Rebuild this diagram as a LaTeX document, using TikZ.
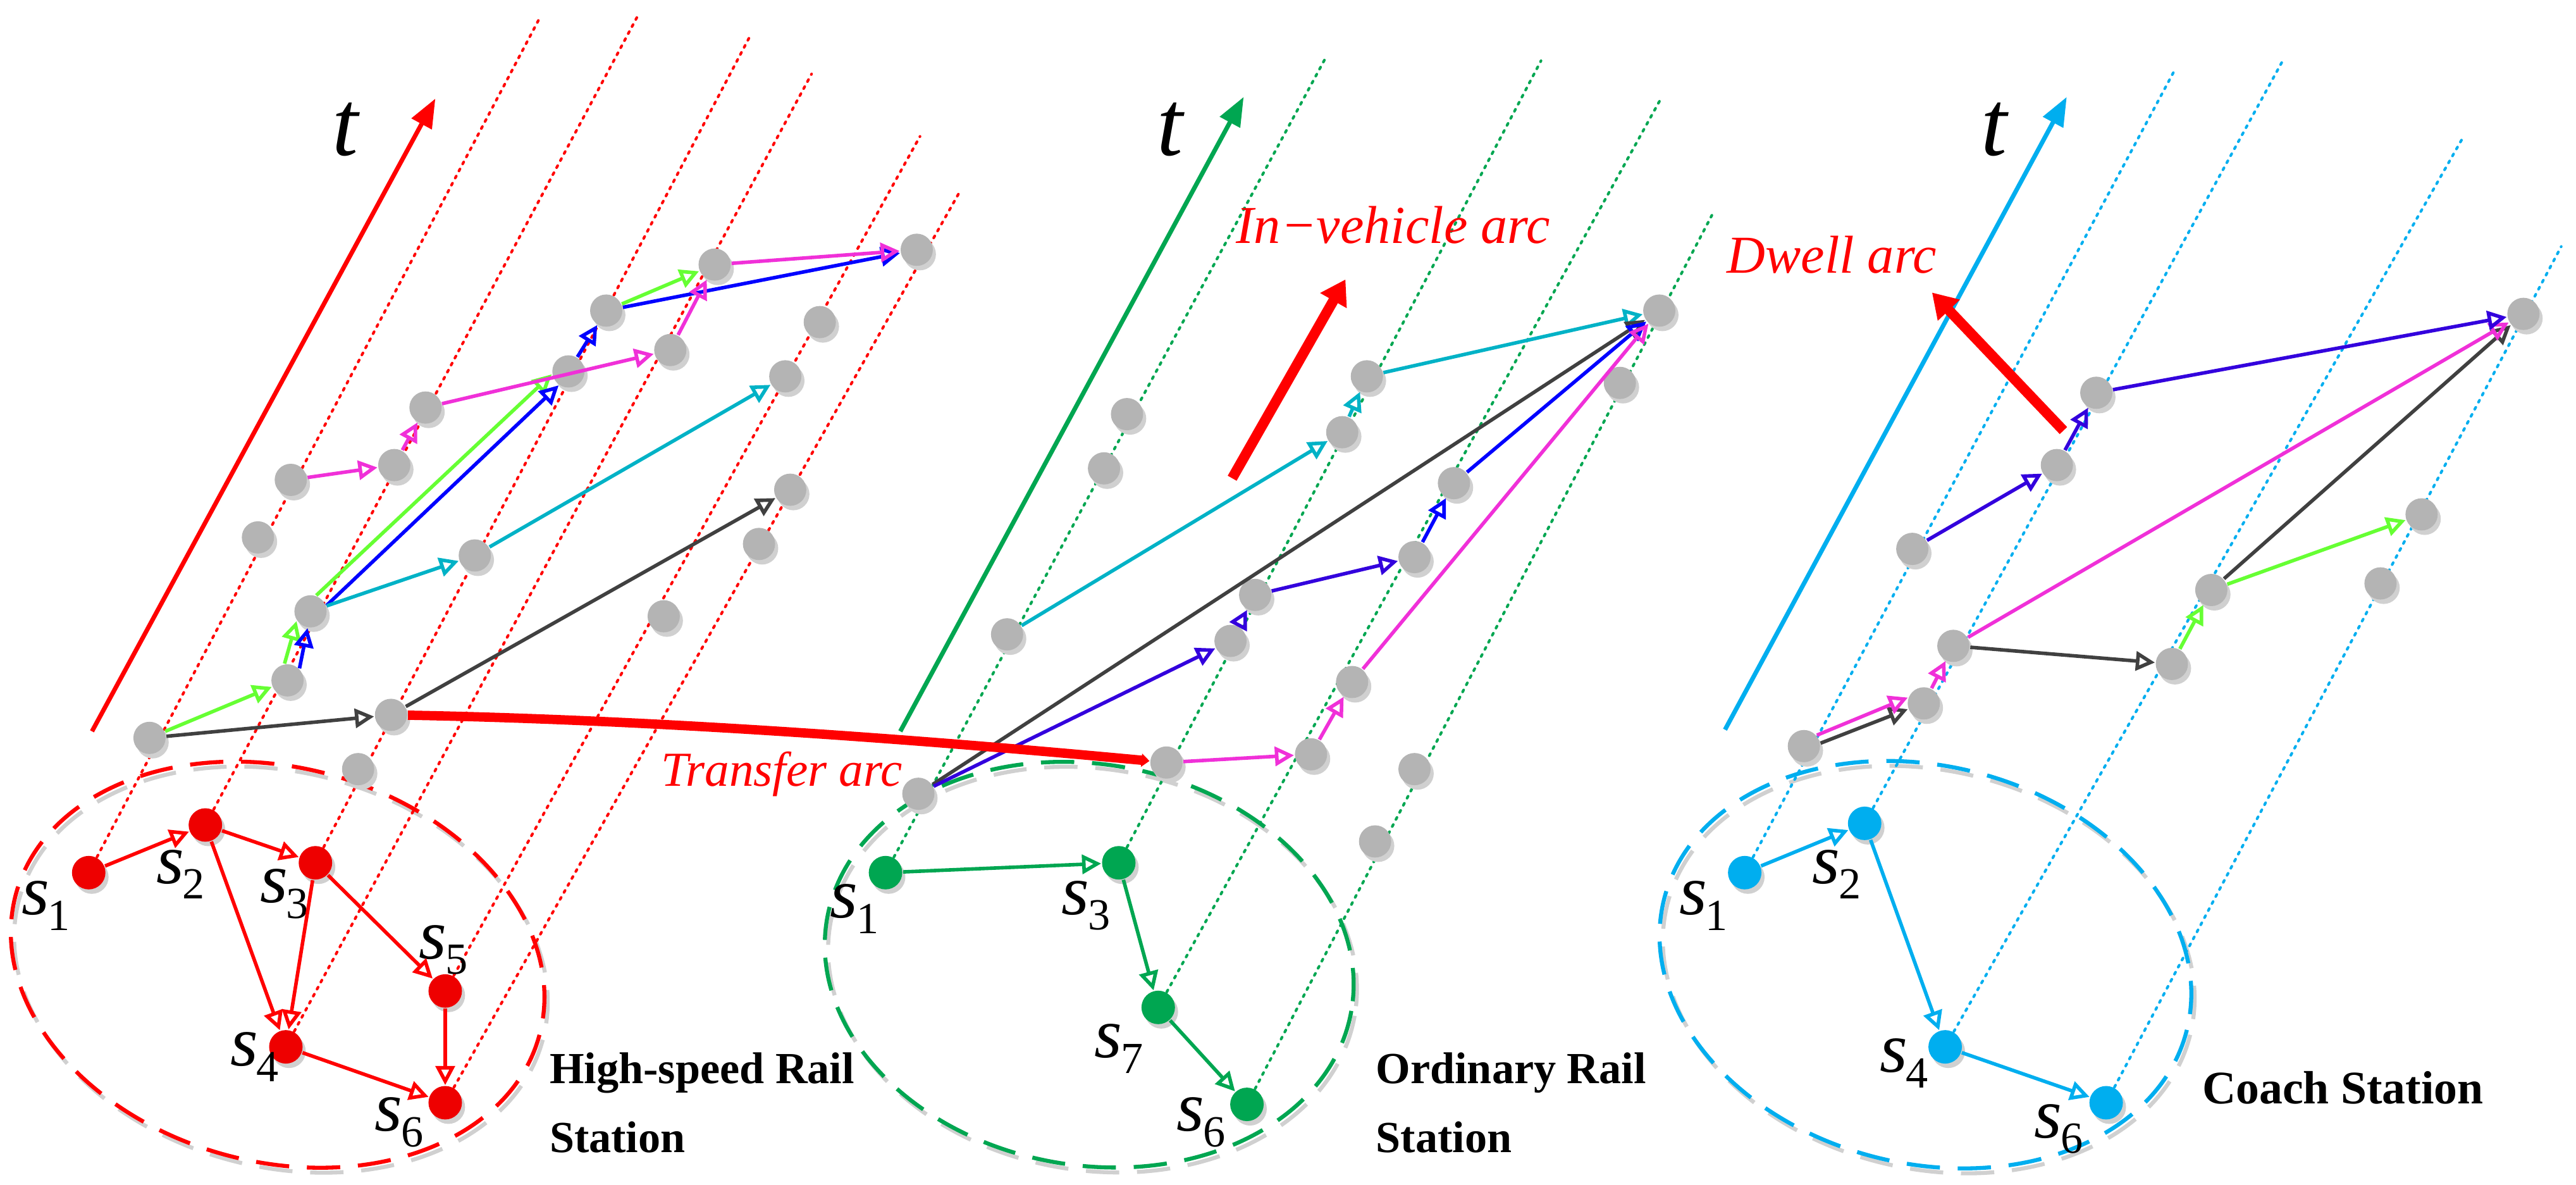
\documentclass[tikz,border=0pt]{standalone}
\usepackage{fontspec}
\setmainfont{Liberation Serif}
\usetikzlibrary{arrows.meta, shadows}

\definecolor{hsred}{HTML}{FF0000}
\definecolor{hsnode}{HTML}{EE0000}
\definecolor{orgreen}{HTML}{00A651}
\definecolor{coblue}{HTML}{00AEEF}
\definecolor{evgray}{HTML}{B4B4B4}
\definecolor{shgray}{HTML}{D0D0D0}
\definecolor{arcgreen}{HTML}{66FF33}
\definecolor{arcblue}{HTML}{0000FF}
\definecolor{arcindigo}{HTML}{3300DD}
\definecolor{arcmagenta}{HTML}{F030D8}
\definecolor{arccyan}{HTML}{00B2C6}
\definecolor{arcblack}{HTML}{404040}

\pgfdeclarelayer{background}
\pgfsetlayers{background,main}

\newcommand{\stname}[1]{\textit{s}\kern-0.3pt\raisebox{-3.5pt}{\fontsize{10}{10}\selectfont #1}}

\begin{document}
\begin{tikzpicture}[
    x=0.013cm, y=-0.013cm,
    >={Triangle[open, length=4.3pt, width=4.3pt]},
    event/.style={circle, inner sep=0pt, minimum size=0.255cm, fill=evgray, drop shadow={shadow xshift=0.7pt, shadow yshift=-1pt, fill=shgray, opacity=1}},
    station/.style={event, minimum size=0.265cm, fill=#1},
    slabel/.style={inner sep=0pt, font=\fontsize{16}{16}\selectfont},
    tlabel/.style={inner sep=0pt, font=\fontsize{21}{21}\selectfont\itshape},
    stlabel/.style={anchor=west, align=left, inner sep=0pt, font=\bfseries\fontsize{10}{15.5}\selectfont},
    arclabel/.style={inner sep=0pt, text=hsred, font=\itshape\fontsize{12}{12}\selectfont},
    timeline/.style={draw=#1, line width=0.6pt, line cap=round, dash pattern=on 0.5pt off 1.3pt},
    taxis/.style={draw=#1, line width=1pt, -{Triangle[length=6.5pt, width=5pt]}},
    region/.style={draw=#1, line width=0.9pt, dash pattern=on 7.5pt off 4pt},
    regionshadow/.style={draw=shgray, line width=0.9pt, dash pattern=on 7.5pt off 4pt, shift={(2,3)}},
    arc/.style={->, draw=#1, line width=0.8pt},
    bigarrow/.style={draw=hsred, line width=2.3pt, -{Triangle[length=5.5pt, width=6.5pt]}},
    transfer/.style={draw=hsred, line width=2.1pt, -{Triangle[length=1.8pt, width=2.9pt]}}
]
\useasboundingbox (0,0) rectangle (1568,721);

% high-speed rail station
\node[station=hsnode] (hs1) at (54,531) {};
\node[station=hsnode] (hs2) at (125,502) {};
\node[station=hsnode] (hs3) at (192,525) {};
\node[station=hsnode] (hs4) at (174,637) {};
\node[station=hsnode] (hs5) at (271,603) {};
\node[station=hsnode] (hs6) at (271,671) {};

\node[slabel] (hs1lab) at (28,551) {\stname{1}};
\node[slabel] (hs2lab) at (110,532) {\stname{2}};
\node[slabel] (hs3lab) at (173,544) {\stname{3}};
\node[slabel] (hs4lab) at (155,643) {\stname{4}};
\node[slabel] (hs5lab) at (270,578) {\stname{5}};
\node[slabel] (hs6lab) at (243,683) {\stname{6}};
\node[stlabel] (hsname) at (334,671) {High-speed Rail\\Station};

\coordinate (ht1) at (329,10);
\coordinate (ht2) at (388,10);
\coordinate (ht3) at (456,23);
\coordinate (ht4) at (494,45);
\coordinate (ht5) at (560,83);
\coordinate (ht6) at (584,117);
\coordinate (hta) at (56,445);
\coordinate (htb) at (265,60);
\node[tlabel] (htlab) at (210,79) {t};

\node[event] (h1) at (91,449) {};
\node[event] (h2) at (175,414) {};
\node[event] (h3) at (189,372) {};
\node[event] (h4) at (238,435) {};
\node[event] (h5) at (218,468) {};
\node[event] (h6) at (157,327) {};
\node[event] (h7) at (177,292) {};
\node[event] (h8) at (240,283) {};
\node[event] (h9) at (259,248) {};
\node[event] (h10) at (289,338) {};
\node[event] (h11) at (346,226) {};
\node[event] (h12) at (369,189) {};
\node[event] (h13) at (408,213) {};
\node[event] (h14) at (435,161) {};
\node[event] (h15) at (558,152) {};
\node[event] (h16) at (499,196) {};
\node[event] (h17) at (478,229) {};
\node[event] (h18) at (481,298) {};
\node[event] (h19) at (462,331) {};
\node[event] (h20) at (404,375) {};

% ordinary rail station
\node[station=orgreen] (os1) at (539,531) {};
\node[station=orgreen] (os3) at (681,525) {};
\node[station=orgreen] (os7) at (705,613) {};
\node[station=orgreen] (os6) at (759,672) {};

\node[slabel] (os1lab) at (520,553) {\stname{1}};
\node[slabel] (os3lab) at (661,551) {\stname{3}};
\node[slabel] (os7lab) at (681,638) {\stname{7}};
\node[slabel] (os6lab) at (731,683) {\stname{6}};
\node[stlabel] (osname) at (837,671) {Ordinary Rail\\Station};

\coordinate (ot1) at (807,35);
\coordinate (ot3) at (938,37);
\coordinate (ot7) at (1011,60);
\coordinate (ot6) at (1042,131);
\coordinate (ota) at (548,445);
\coordinate (otb) at (757,59);
\node[tlabel] (otlab) at (712,79) {t};

\node[event] (o1) at (559,483) {};
\node[event] (o2) at (613,386) {};
\node[event] (o3) at (672,285) {};
\node[event] (o4) at (686,252) {};
\node[event] (o5) at (710,464) {};
\node[event] (o6) at (798,459) {};
\node[event] (o7) at (823,415) {};
\node[event] (o8) at (749,390) {};
\node[event] (o9) at (764,362) {};
\node[event] (o10) at (861,339) {};
\node[event] (o11) at (885,294) {};
\node[event] (o12) at (817,263) {};
\node[event] (o13) at (832,229) {};
\node[event] (o14) at (1010,189) {};
\node[event] (o15) at (986,233) {};
\node[event] (o16) at (861,468) {};
\node[event] (o17) at (837,512) {};

% coach station
\node[station=coblue] (cs1) at (1062,531) {};
\node[station=coblue] (cs2) at (1135,501) {};
\node[station=coblue] (cs4) at (1184,637) {};
\node[station=coblue] (cs6) at (1282,671) {};

\node[slabel] (cs1lab) at (1037,551) {\stname{1}};
\node[slabel] (cs2lab) at (1118,532) {\stname{2}};
\node[slabel] (cs4lab) at (1159,647) {\stname{4}};
\node[slabel] (cs6lab) at (1253,687) {\stname{6}};
\node[stlabel, font=\bfseries\fontsize{10.5}{12}\selectfont] (csname) at (1340,662) {Coach Station};

\coordinate (ct1) at (1323,44);
\coordinate (ct2) at (1390,36);
\coordinate (ct4) at (1499,84);
\coordinate (ct6) at (1559,150);
\coordinate (cta) at (1050,444);
\coordinate (ctb) at (1258,59);
\node[tlabel] (ctlab) at (1214,79) {t};

\node[event] (c1) at (1098,454) {};
\node[event] (c2) at (1171,428) {};
\node[event] (c3) at (1189,393) {};
\node[event] (c4) at (1164,334) {};
\node[event] (c5) at (1252,283) {};
\node[event] (c6) at (1276,239) {};
\node[event] (c7) at (1322,404) {};
\node[event] (c8) at (1346,359) {};
\node[event] (c9) at (1449,355) {};
\node[event] (c10) at (1474,313) {};
\node[event] (c11) at (1536,191) {};

% arc legend
\node[arclabel, font=\itshape\fontsize{11}{11}\selectfont] (transferlab) at (476,471) {Transfer arc};
\node[arclabel] (vehiclelab) at (848,137) {In−vehicle arc};
\node[arclabel] (dwelllab) at (1115,155) {Dwell arc};
\coordinate (iva) at (750,291);
\coordinate (ivb) at (819,170);
\coordinate (dwa) at (1256,262);
\coordinate (dwb) at (1176,178);
\draw[bigarrow] (iva) -- (ivb);
\draw[bigarrow] (dwa) -- (dwb);

\begin{pgfonlayer}{background}
\draw[regionshadow, rotate around={-15:(169,587)}] (169,587) ellipse [x radius=165, y radius=120];
\draw[region=hsred, rotate around={-15:(169,587)}] (169,587) ellipse [x radius=165, y radius=120];
\draw[regionshadow, rotate around={-10:(663,587)}] (663,587) ellipse [x radius=162, y radius=122];
\draw[region=orgreen, rotate around={-10:(663,587)}] (663,587) ellipse [x radius=162, y radius=122];
\draw[regionshadow, rotate around={-14:(1172,587)}] (1172,587) ellipse [x radius=164, y radius=121];
\draw[region=coblue, rotate around={-14:(1172,587)}] (1172,587) ellipse [x radius=164, y radius=121];

\draw[timeline=hsred] (hs1) -- (ht1);
\draw[timeline=hsred] (hs2) -- (ht2);
\draw[timeline=hsred] (hs3) -- (ht3);
\draw[timeline=hsred] (hs4) -- (ht4);
\draw[timeline=hsred] (hs5) -- (ht5);
\draw[timeline=hsred] (hs6) -- (ht6);
\draw[timeline=orgreen] (os1) -- (ot1);
\draw[timeline=orgreen] (os3) -- (ot3);
\draw[timeline=orgreen] (os7) -- (ot7);
\draw[timeline=orgreen] (os6) -- (ot6);
\draw[timeline=coblue] (cs1) -- (ct1);
\draw[timeline=coblue] (cs2) -- (ct2);
\draw[timeline=coblue] (cs4) -- (ct4);
\draw[timeline=coblue] (cs6) -- (ct6);

\draw[taxis=hsred] (hta) -- (htb);
\draw[taxis=orgreen] (ota) -- (otb);
\draw[taxis=coblue] (cta) -- (ctb);
\end{pgfonlayer}

% station links
\draw[arc=hsred] (hs1) -- (hs2);
\draw[arc=hsred] (hs2) -- (hs3);
\draw[arc=hsred] (hs2) -- (hs4);
\draw[arc=hsred] (hs3) -- (hs4);
\draw[arc=hsred] (hs3) -- (hs5);
\draw[arc=hsred] (hs5) -- (hs6);
\draw[arc=hsred] (hs4) -- (hs6);
\draw[arc=orgreen] (os1) -- (os3);
\draw[arc=orgreen] (os3) -- (os7);
\draw[arc=orgreen] (os7) -- (os6);
\draw[arc=coblue] (cs1) -- (cs2);
\draw[arc=coblue] (cs2) -- (cs4);
\draw[arc=coblue] (cs4) -- (cs6);

% paths, high-speed rail
\draw[arc=arcgreen] (h1) -- (h2);
\draw[arc=arcgreen] (h2.100) -- (h3.215);
\draw[arc=arcgreen] (h3.70) -- (h11.190);
\draw[arc=arcgreen] (h12) -- (h14);
\draw[arc=arcblue] (h2.45) -- (h3.260);
\draw[arc=arcblue] (h3.20) -- (h11.235);
\draw[arc=arcblue] (h11) -- (h12);
\draw[arc=arcblue] (h12) -- (h15);
\draw[arc=arcblack] (h1) -- (h4);
\draw[arc=arcblack] (h4) -- (h18);
\draw[arc=arccyan] (h3) -- (h10);
\draw[arc=arccyan] (h10) -- (h17);
\draw[arc=arcmagenta] (h7) -- (h8);
\draw[arc=arcmagenta] (h8) -- (h9);
\draw[arc=arcmagenta] (h9) -- (h13);
\draw[arc=arcmagenta] (h13) -- (h14);
\draw[arc=arcmagenta] (h14) -- (h15);

% paths, ordinary rail
\draw[arc=arccyan] (o2) -- (o12);
\draw[arc=arccyan] (o12) -- (o13);
\draw[arc=arccyan] (o13) -- (o14);
\draw[arc=arcblack] (o1) -- (o14);
\draw[arc=arcindigo] (o1) -- (o8);
\draw[arc=arcindigo] (o8) -- (o9);
\draw[arc=arcindigo] (o9) -- (o10);
\draw[arc=arcblue] (o10) -- (o11);
\draw[arc=arcblue] (o11) -- (o14);
\draw[arc=arcmagenta] (o5) -- (o6);
\draw[arc=arcmagenta] (o6) -- (o7);
\draw[arc=arcmagenta] (o7) -- (o14);

% paths, coach
\draw[arc=arcblack] (c1.10) -- (c2.200);
\draw[arc=arcblack] (c3) -- (c7);
\draw[arc=arcblack] (c8) -- (c11);
\draw[arc=arcmagenta] (c1.40) -- (c2.160);
\draw[arc=arcmagenta] (c2) -- (c3);
\draw[arc=arcmagenta] (c3) -- (c11);
\draw[arc=arcindigo] (c4) -- (c5);
\draw[arc=arcindigo] (c5) -- (c6);
\draw[arc=arcindigo] (c6) -- (c11);
\draw[arc=arcgreen] (c7) -- (c8);
\draw[arc=arcgreen] (c8) -- (c10);

% transfer between stations
\draw[transfer] (h4) .. controls (400,438) and (560,450) .. (o5);
\end{tikzpicture}
\end{document}
